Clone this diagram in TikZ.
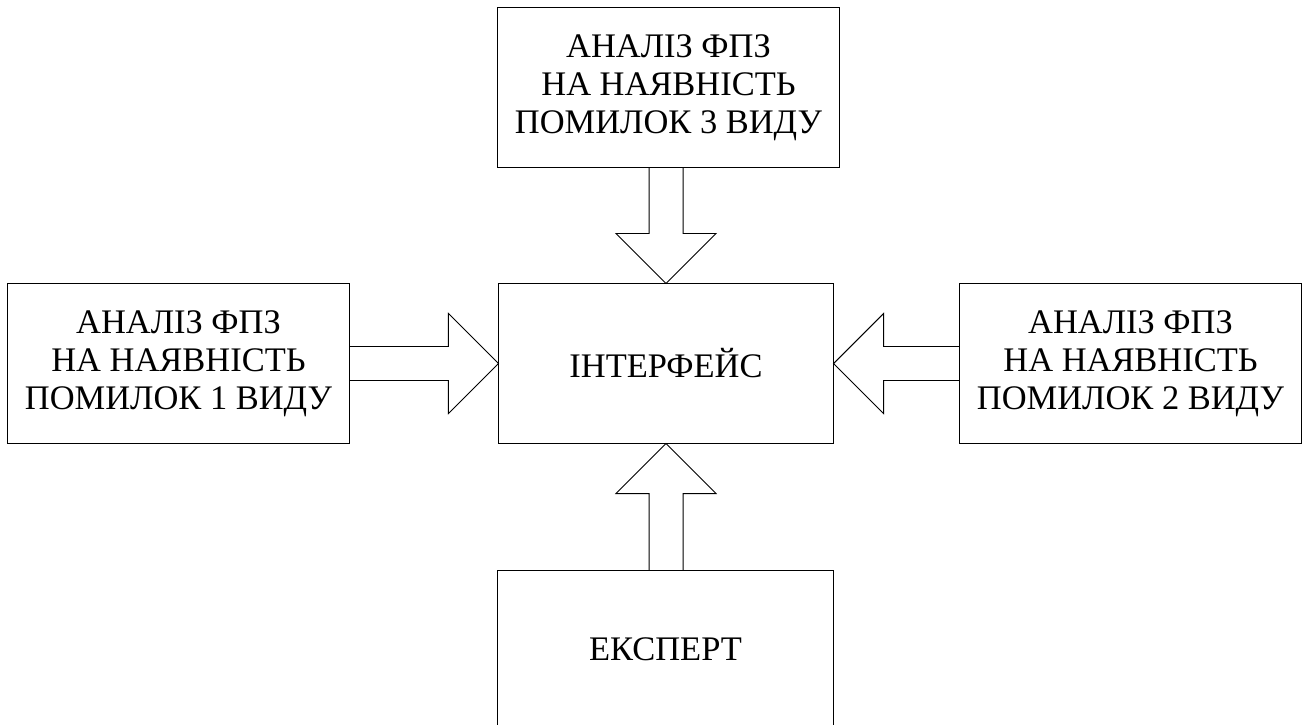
\documentclass[tikz,border=0pt]{standalone}
\usepackage{fontspec}
\setmainfont{Liberation Serif}
\usetikzlibrary{calc}

\tikzset{
  blok/.style={draw,line width=0.7pt,minimum width=8.525cm,minimum height=3.975cm,inner sep=0pt,align=center,font=\fontsize{24.5}{27}\selectfont},
  strilka/.style={draw,line width=0.7pt,line join=miter},
}

\begin{document}
\begin{tikzpicture}[x=0.025cm,y=-0.025cm]
        \useasboundingbox (0,0) rectangle (1306,724);
        \node[blok,minimum width=8.35cm] (iface) at (666,363.5) {ІНТЕРФЕЙС};
        \node[blok] (anz3) at (668.5,87.5) {АНАЛІЗ ФПЗ\\НА НАЯВНІСТЬ\\ПОМИЛОК 3 ВИДУ};
        \node[blok] (anz1) at (178.5,363.5) {АНАЛІЗ ФПЗ\\НА НАЯВНІСТЬ\\ПОМИЛОК 1 ВИДУ};
        \node[blok] (anz2) at (1130.5,363.5) {АНАЛІЗ ФПЗ\\НА НАЯВНІСТЬ\\ПОМИЛОК 2 ВИДУ};
        \node[blok,minimum width=8.375cm,minimum height=3.925cm] (expert) at (665.5,649.5) {ЕКСПЕРТ};
        % block arrows into the interface
        \draw[strilka] ($(iface.north |- anz3.south)+(-17,0)$) -- ($(iface.north)+(-17,-50)$) -- ($(iface.north)+(-50,-50)$) -- (iface.north) -- ($(iface.north)+(50,-50)$) -- ($(iface.north)+(17,-50)$) -- ($(iface.north |- anz3.south)+(17,0)$);
        \draw[strilka] ($(anz1.east)+(0,-17)$) -- ($(iface.west)+(-50,-17)$) -- ($(iface.west)+(-50,-50)$) -- (iface.west) -- ($(iface.west)+(-50,50)$) -- ($(iface.west)+(-50,17)$) -- ($(anz1.east)+(0,17)$);
        \draw[strilka] ($(anz2.west)+(0,-17)$) -- ($(iface.east)+(50,-17)$) -- ($(iface.east)+(50,-50)$) -- (iface.east) -- ($(iface.east)+(50,50)$) -- ($(iface.east)+(50,17)$) -- ($(anz2.west)+(0,17)$);
        \draw[strilka] ($(iface.south |- expert.north)+(-17,0)$) -- ($(iface.south)+(-17,50)$) -- ($(iface.south)+(-50,50)$) -- (iface.south) -- ($(iface.south)+(50,50)$) -- ($(iface.south)+(17,50)$) -- ($(iface.south |- expert.north)+(17,0)$);
\end{tikzpicture}
\end{document}
